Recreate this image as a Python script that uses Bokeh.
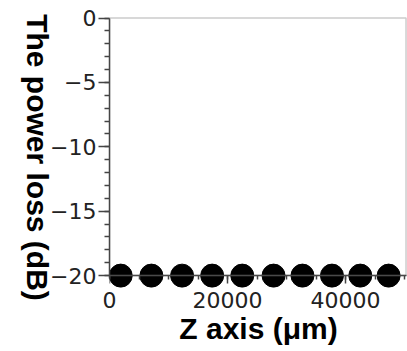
import math
from bokeh.plotting import figure
from bokeh.models import Range1d, FixedTicker, Label, BoxAnnotation, LinearAxis
from bokeh.embed import file_html
from bokeh.resources import INLINE

# data
z_um = [1900, 7100, 12300, 17400, 22500, 27800, 32700, 37700, 42500, 47300]
loss_db = [-20, -20, -20, -20, -20, -20, -20, -20, -20, -20]
x_ticks = [0, 20000, 40000]
y_ticks = [-20, -15, -10, -5, 0]
y_tick_labels = ["\u221220", "\u221215", "\u221210", "\u22125", "0"]
x_box_end = 50250
y_min, y_max = -20, 0

# ranges padded a little so the frame box and the markers on the axis are not clipped
p = figure(width=407, height=351, output_backend="svg", toolbar_location=None,
           x_range=Range1d(0, 50500), y_range=Range1d(y_min - 1, y_max + 0.12),
           min_border_left=109, min_border_right=0, min_border_top=16, min_border_bottom=63)
p.grid.visible = False
p.outline_line_color = None
p.background_fill_color = "white"
p.border_fill_color = "white"

p.add_layout(BoxAnnotation(left=0, right=x_box_end, bottom=y_min, top=y_max,
                           fill_alpha=0, line_color="#555555", line_width=1.5))

p.scatter(z_um, loss_db, size=23, color="black", marker="circle")

tick_font = "DejaVu Sans"
lab_font = "Liberation Sans"

# axis line + ticks drawn at y = -20
xa = p.xaxis[0]
xa.ticker = FixedTicker(ticks=x_ticks, minor_ticks=list(range(0, 50001, 5000)))
xa.fixed_location = y_min
xa.major_label_text_alpha = 0
xa.bounds = (0, x_box_end)

# labels-only axis in the bottom panel
xb = LinearAxis(ticker=FixedTicker(ticks=x_ticks), axis_label="Z axis (\u03bcm)")
xb.axis_line_color = None
xb.major_tick_line_color = None
xb.minor_tick_line_color = None
xb.major_tick_in = 0
xb.major_tick_out = 0
xb.major_label_standoff = 3
xb.axis_label_standoff = 1
p.add_layout(xb, "below")

ya = p.yaxis[0]
ya.ticker = FixedTicker(ticks=y_ticks, minor_ticks=list(range(-20, 1)))
ya.major_label_overrides = {t: s for t, s in zip(y_ticks, y_tick_labels)}
ya.bounds = (y_min - 0.25, y_max)

for ax in (xa, ya, xb):
    ax.axis_line_width = 1.5
    ax.major_tick_line_width = 1.5
    ax.minor_tick_line_width = 1.5
    ax.major_label_text_font = tick_font
    ax.major_label_text_font_size = "22px"
    ax.major_label_text_color = "#222222"
    ax.axis_label_text_font = lab_font
    ax.axis_label_text_font_style = "bold"
    ax.axis_label_text_font_size = "30px"
    ax.axis_label_text_color = "black"
for ax in (xa, ya):
    ax.axis_line_color = "#444444"
    ax.major_tick_line_color = "#444444"
    ax.minor_tick_line_color = "#444444"
    ax.major_tick_in = 0
    ax.minor_tick_in = 0

xa.major_tick_out = 8
xa.minor_tick_out = 4
ya.major_tick_out = 11
ya.minor_tick_out = 5
ya.major_label_standoff = 2

ylab = Label(x=23, y=131, x_units="screen", y_units="screen",
             text="The power loss (dB)", angle=-math.pi / 2,
             text_align="center", text_baseline="middle",
             text_font=lab_font, text_font_style="bold", text_font_size="30px",
             text_color="black")
p.add_layout(ylab, "left")

open("out.html", "w").write(file_html(p, INLINE))
